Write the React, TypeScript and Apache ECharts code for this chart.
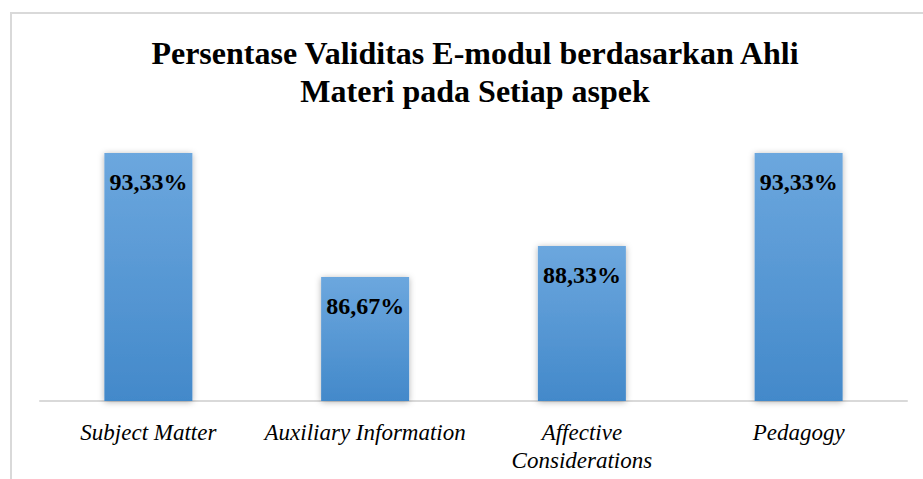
import React, { useEffect, useRef } from "react";
import * as echarts from "echarts";

const categories = ["Subject Matter", "Auxiliary Information", "Affective\nConsiderations", "Pedagogy"];
const values = [93.33, 86.67, 88.33, 93.33];
const titleLines = ["Persentase Validitas E-modul berdasarkan Ahli", "Materi pada Setiap aspek"];

export default function App() {
  const ref = useRef<HTMLDivElement>(null);
  useEffect(() => {
    if (!ref.current) return;
    const chart = echarts.init(ref.current, null, { renderer: "svg" });
    const serif = "Times New Roman, Liberation Serif, serif";
    chart.setOption({
      animation: false,
      backgroundColor: "#ffffff",
      textStyle: { fontFamily: serif },
      title: {
        text: titleLines.join("\n"),
        left: 470,
        textAlign: "center",
        top: 29,
        textStyle: { fontFamily: serif, fontWeight: "bold", fontSize: 32, lineHeight: 38, color: "#000" },
      },
      graphic: [
        {
          type: "rect",
          shape: { x: 11, y: 13, width: 1000, height: 1000 },
          style: { fill: "none", stroke: "#d9d9d9", lineWidth: 2 },
          silent: true,
        },
      ],
      grid: { left: 40, right: 16, top: 29, bottom: 78 },
      xAxis: {
        type: "category",
        data: categories,
        axisLine: { lineStyle: { color: "#d9d9d9", width: 2 } },
        axisTick: { show: false },
        axisLabel: {
          interval: 0,
          margin: 17,
          fontFamily: serif,
          fontStyle: "italic",
          fontSize: 23,
          lineHeight: 28,
          color: "#000",
        },
      },
      yAxis: { type: "value", min: 80, max: 100, show: false, splitLine: { show: false } },
      series: [
        {
          type: "bar",
          data: values,
          barWidth: 88,
          itemStyle: {
            color: new echarts.graphic.LinearGradient(0, 0, 0, 1, [
              { offset: 0, color: "#6ca7de" },
              { offset: 1, color: "#4389ca" },
            ]),
            shadowBlur: 6,
            shadowColor: "rgba(0,0,0,0.3)",
            shadowOffsetY: 1,
          },
          label: {
            show: true,
            position: "insideTop",
            distance: 17,
            formatter: (p: any) => p.value.toFixed(2).replace(".", ",") + "%",
            fontFamily: serif,
            fontWeight: "bold",
            fontSize: 24,
            color: "#000",
          },
        },
      ],
    });
    return () => chart.dispose();
  }, []);
  return <div ref={ref} style={{ position: "fixed", left: 0, top: 0, width: 923, height: 479 }} />;
}
